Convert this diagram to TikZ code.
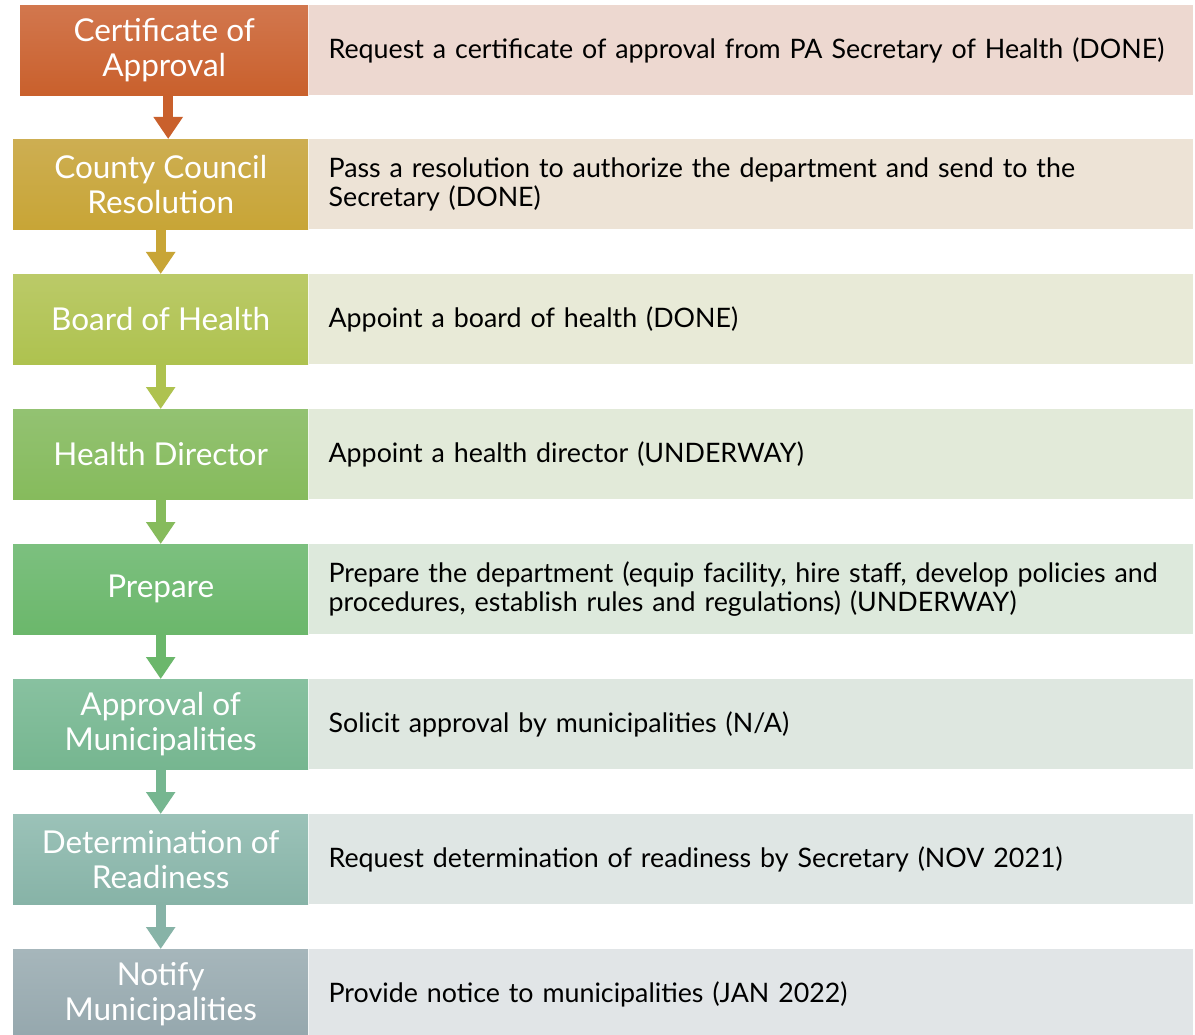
\documentclass[tikz,border=0pt]{standalone}
\usepackage{fontspec}
\setmainfont{Lato}
\usepackage{tikz}
\usetikzlibrary{arrows.meta}
\definecolor{certtop}{HTML}{D2774E}
\definecolor{certbot}{HTML}{C9602C}
\definecolor{certtint}{HTML}{EDD8D0}
\definecolor{counciltop}{HTML}{CDAE52}
\definecolor{councilbot}{HTML}{C8A536}
\definecolor{counciltint}{HTML}{EDE3D6}
\definecolor{boardtop}{HTML}{BBCA68}
\definecolor{boardbot}{HTML}{AEC24F}
\definecolor{boardtint}{HTML}{E8EAD7}
\definecolor{directortop}{HTML}{93C272}
\definecolor{directorbot}{HTML}{86BB5C}
\definecolor{directortint}{HTML}{E2EAD9}
\definecolor{preparetop}{HTML}{7CC07F}
\definecolor{preparebot}{HTML}{6BB76B}
\definecolor{preparetint}{HTML}{DDE9DC}
\definecolor{munitop}{HTML}{88C1A0}
\definecolor{munibot}{HTML}{76B690}
\definecolor{munitint}{HTML}{DEE7E0}
\definecolor{readytop}{HTML}{9BC2B8}
\definecolor{readybot}{HTML}{87B3A7}
\definecolor{readytint}{HTML}{DFE6E4}
\definecolor{notifytop}{HTML}{A6B6BB}
\definecolor{notifybot}{HTML}{95A7AD}
\definecolor{notifytint}{HTML}{E1E5E7}
\tikzset{
  stepbox/.style={anchor=north west,minimum height=90pt,inner sep=0pt,
    text=white,align=center,font=\fontsize{31.5}{35}\selectfont},
  notebox/.style={anchor=north west,minimum height=90pt,inner xsep=20pt,inner ysep=0pt,
    text width=844pt,align=left,font=\fontsize{26.8}{29.5}\selectfont},
  stepline/.style={line width=10pt,-{Triangle[width=28pt,length=22pt]}}
}
% #1 name, #2 north west corner, #3 width, #4 colour prefix, #5 title, #6 note
\newcommand{\drawstep}[6]{
  \node[stepbox,minimum width=#3pt,top color=#4top,bottom color=#4bot] (#1) at #2 {#5};
  \node[notebox,fill=#4tint] (#1note) at (#1.north east) {#6};
}

\begin{document}
\begin{tikzpicture}[x=1pt,y=-1pt]
  \clip (0,0) rectangle (1195,1035);
  \fill[white] (0,0) rectangle (1195,1035);

  \drawstep{cert}{(20,5)}{288}{cert}{Certificate of\\Approval}{Request a certificate of approval from PA Secretary of Health (DONE)}
  \drawstep{council}{(13,139)}{295}{council}{County Council\\Resolution}{Pass a resolution to authorize the department and send to the\\Secretary (DONE)}
  \drawstep{board}{(13,274)}{295}{board}{Board of Health}{Appoint a board of health (DONE)}
  \drawstep{director}{(13,409)}{295}{director}{Health Director}{Appoint a health director (UNDERWAY)}
  \drawstep{prepare}{(13,544)}{295}{prepare}{Prepare}{Prepare the department (equip facility, hire staff, develop policies and\\procedures, establish rules and regulations) (UNDERWAY)}
  \drawstep{muni}{(13,679)}{295}{muni}{Approval of\\Municipalities}{Solicit approval by municipalities (N/A)}
  \drawstep{ready}{(13,814)}{295}{ready}{Determination of\\Readiness}{Request determination of readiness by Secretary (NOV 2021)}
  \drawstep{notify}{(13,949)}{295}{notify}{Notify\\Municipalities}{Provide notice to municipalities (JAN 2022)}

  % arrows between the steps
  \draw[stepline,certbot] ([xshift=4pt]cert.south) -- ([xshift=4pt]cert.south |- council.north);
  \draw[stepline,councilbot] (council.south) -- (board.north);
  \draw[stepline,boardbot] (board.south) -- (director.north);
  \draw[stepline,directorbot] (director.south) -- (prepare.north);
  \draw[stepline,preparebot] (prepare.south) -- (muni.north);
  \draw[stepline,munibot] (muni.south) -- (ready.north);
  \draw[stepline,readybot] (ready.south) -- (notify.north);
\end{tikzpicture}
\end{document}
